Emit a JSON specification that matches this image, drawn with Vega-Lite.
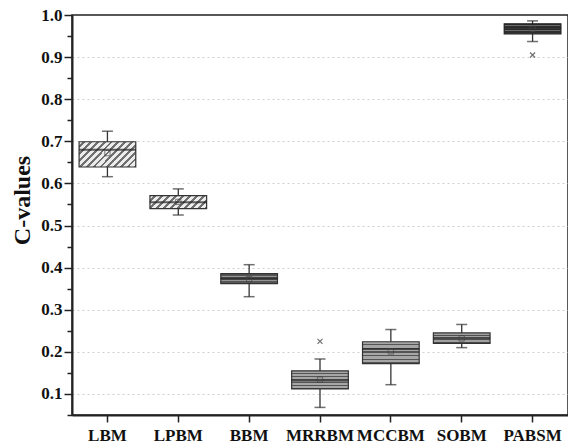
{
  "$schema": "https://vega.github.io/schema/vega-lite/v6.json",
  "width": 496,
  "height": 400,
  "autosize": {"type": "none"},
  "padding": {"left": 72, "top": 15, "right": 0, "bottom": 32},
  "background": "white",
  "config": {
    "view": {"stroke": "#222", "strokeWidth": 1.5},
    "font": "Liberation Serif"
  },
  "resolve": {"axis": {"y": "independent"}},
  "data": {
    "values": [
      {"cat": "LBM", "lo": 0.616, "q1": 0.639, "med": 0.680, "q3": 0.699, "hi": 0.724, "mean": 0.672},
      {"cat": "LPBM", "lo": 0.525, "q1": 0.540, "med": 0.555, "q3": 0.571, "hi": 0.587, "mean": 0.556},
      {"cat": "BBM", "lo": 0.331, "q1": 0.362, "med": 0.374, "q3": 0.386, "hi": 0.407, "mean": 0.373},
      {"cat": "MRRBM", "lo": 0.068, "q1": 0.112, "med": 0.132, "q3": 0.155, "hi": 0.183, "mean": 0.134},
      {"cat": "MCCBM", "lo": 0.122, "q1": 0.172, "med": 0.207, "q3": 0.224, "hi": 0.253, "mean": 0.201},
      {"cat": "SOBM", "lo": 0.210, "q1": 0.220, "med": 0.233, "q3": 0.245, "hi": 0.265, "mean": 0.232},
      {"cat": "PABSM", "lo": 0.937, "q1": 0.955, "med": 0.968, "q3": 0.979, "hi": 0.986, "mean": 0.967}
    ]
  },
  "encoding": {
    "x": {
      "field": "cat", "type": "nominal",
      "sort": ["LBM", "LPBM", "BBM", "MRRBM", "MCCBM", "SOBM", "PABSM"],
      "scale": {"paddingInner": 0, "paddingOuter": 0},
      "axis": {
        "title": null, "labelAngle": 0, "labelFont": "Liberation Serif", "labelFontWeight": "bold",
        "labelFontSize": 17, "labelColor": "#111", "labelPadding": 5, "tickSize": 7, "tickWidth": 1.5,
        "tickColor": "#222", "domainColor": "#222", "domainWidth": 2, "grid": false
      }
    }
  },
  "layer": [
    {
      "mark": {"type": "rule", "color": "#333", "strokeWidth": 1.3},
      "encoding": {
        "y": {
          "field": "lo", "type": "quantitative",
          "scale": {"domain": [0.05, 1.0], "nice": false, "zero": false},
          "axis": {
            "orient": "left",
            "title": "C-values", "titleFont": "Liberation Serif", "titleFontSize": 24, "titleFontWeight": "bold",
            "titleColor": "#111", "titlePadding": 6, "titleY": 185,
            "values": [0.1, 0.2, 0.3, 0.4, 0.5, 0.6, 0.7, 0.8, 0.9, 1.0],
            "format": ".1f",
            "labelFont": "Liberation Serif", "labelFontWeight": "bold", "labelFontSize": 17, "labelColor": "#111",
            "labelPadding": 2, "labelOverlap": false, "labelBound": false,
            "tickSize": 8, "tickWidth": 1.5, "tickColor": "#222", "domainColor": "#222", "domainWidth": 2,
            "grid": false
          }
        },
        "y2": {"field": "hi"}
      }
    },
    {
      "transform": [{"filter": {"field": "cat", "oneOf": ["LBM"]}}],
      "mark": {
        "type": "bar", "width": {"band": 0.8}, "stroke": "#333", "strokeWidth": 1.2,
        "fill": {"gradient": "linear", "x1": 0, "y1": 0, "x2": 1.207, "y2": 0.529, "stops": [
          {"offset": 0, "color": "#ececec"}, {"offset": 0.05, "color": "#ececec"}, {"offset": 0.05, "color": "#707070"}, {"offset": 0.0833, "color": "#707070"},
          {"offset": 0.0833, "color": "#ececec"}, {"offset": 0.1333, "color": "#ececec"}, {"offset": 0.1333, "color": "#707070"}, {"offset": 0.1667, "color": "#707070"},
          {"offset": 0.1667, "color": "#ececec"}, {"offset": 0.2167, "color": "#ececec"}, {"offset": 0.2167, "color": "#707070"}, {"offset": 0.25, "color": "#707070"},
          {"offset": 0.25, "color": "#ececec"}, {"offset": 0.3, "color": "#ececec"}, {"offset": 0.3, "color": "#707070"}, {"offset": 0.3333, "color": "#707070"},
          {"offset": 0.3333, "color": "#ececec"}, {"offset": 0.3833, "color": "#ececec"}, {"offset": 0.3833, "color": "#707070"}, {"offset": 0.4167, "color": "#707070"},
          {"offset": 0.4167, "color": "#ececec"}, {"offset": 0.4667, "color": "#ececec"}, {"offset": 0.4667, "color": "#707070"}, {"offset": 0.5, "color": "#707070"},
          {"offset": 0.5, "color": "#ececec"}, {"offset": 0.55, "color": "#ececec"}, {"offset": 0.55, "color": "#707070"}, {"offset": 0.5833, "color": "#707070"},
          {"offset": 0.5833, "color": "#ececec"}, {"offset": 0.6333, "color": "#ececec"}, {"offset": 0.6333, "color": "#707070"}, {"offset": 0.6667, "color": "#707070"},
          {"offset": 0.6667, "color": "#ececec"}, {"offset": 0.7167, "color": "#ececec"}, {"offset": 0.7167, "color": "#707070"}, {"offset": 0.75, "color": "#707070"},
          {"offset": 0.75, "color": "#ececec"}, {"offset": 0.8, "color": "#ececec"}, {"offset": 0.8, "color": "#707070"}, {"offset": 0.8333, "color": "#707070"},
          {"offset": 0.8333, "color": "#ececec"}, {"offset": 0.8833, "color": "#ececec"}, {"offset": 0.8833, "color": "#707070"}, {"offset": 0.9167, "color": "#707070"},
          {"offset": 0.9167, "color": "#ececec"}, {"offset": 0.9667, "color": "#ececec"}, {"offset": 0.9667, "color": "#707070"}, {"offset": 1, "color": "#707070"}
        ]}
      },
      "encoding": {"y": {"field": "q1", "type": "quantitative", "axis": null}, "y2": {"field": "q3"}}
    },
    {
      "transform": [{"filter": {"field": "cat", "oneOf": ["LPBM"]}}],
      "mark": {
        "type": "bar", "width": {"band": 0.8}, "stroke": "#333", "strokeWidth": 1.2,
        "fill": {"gradient": "linear", "x1": 0, "y1": 0, "x2": 1.167, "y2": 0.266, "stops": [
          {"offset": 0, "color": "#ececec"}, {"offset": 0.06, "color": "#ececec"}, {"offset": 0.06, "color": "#707070"}, {"offset": 0.1, "color": "#707070"},
          {"offset": 0.1, "color": "#ececec"}, {"offset": 0.16, "color": "#ececec"}, {"offset": 0.16, "color": "#707070"}, {"offset": 0.2, "color": "#707070"},
          {"offset": 0.2, "color": "#ececec"}, {"offset": 0.26, "color": "#ececec"}, {"offset": 0.26, "color": "#707070"}, {"offset": 0.3, "color": "#707070"},
          {"offset": 0.3, "color": "#ececec"}, {"offset": 0.36, "color": "#ececec"}, {"offset": 0.36, "color": "#707070"}, {"offset": 0.4, "color": "#707070"},
          {"offset": 0.4, "color": "#ececec"}, {"offset": 0.46, "color": "#ececec"}, {"offset": 0.46, "color": "#707070"}, {"offset": 0.5, "color": "#707070"},
          {"offset": 0.5, "color": "#ececec"}, {"offset": 0.56, "color": "#ececec"}, {"offset": 0.56, "color": "#707070"}, {"offset": 0.6, "color": "#707070"},
          {"offset": 0.6, "color": "#ececec"}, {"offset": 0.66, "color": "#ececec"}, {"offset": 0.66, "color": "#707070"}, {"offset": 0.7, "color": "#707070"},
          {"offset": 0.7, "color": "#ececec"}, {"offset": 0.76, "color": "#ececec"}, {"offset": 0.76, "color": "#707070"}, {"offset": 0.8, "color": "#707070"},
          {"offset": 0.8, "color": "#ececec"}, {"offset": 0.86, "color": "#ececec"}, {"offset": 0.86, "color": "#707070"}, {"offset": 0.9, "color": "#707070"},
          {"offset": 0.9, "color": "#ececec"}, {"offset": 0.96, "color": "#ececec"}, {"offset": 0.96, "color": "#707070"}, {"offset": 1, "color": "#707070"}
        ]}
      },
      "encoding": {"y": {"field": "q1", "type": "quantitative", "axis": null}, "y2": {"field": "q3"}}
    },
    {
      "transform": [{"filter": {"field": "cat", "oneOf": ["BBM"]}}],
      "mark": {
        "type": "bar", "width": {"band": 0.8}, "stroke": "#333", "strokeWidth": 1.2,
        "fill": {"gradient": "linear", "x1": 0, "y1": 0, "x2": 0, "y2": 1, "stops": [
          {"offset": 0, "color": "#555555"}, {"offset": 0.2, "color": "#555555"}, {"offset": 0.2, "color": "#959595"}, {"offset": 0.38, "color": "#959595"},
          {"offset": 0.38, "color": "#555555"}, {"offset": 0.6, "color": "#555555"}, {"offset": 0.6, "color": "#959595"}, {"offset": 0.78, "color": "#959595"},
          {"offset": 0.78, "color": "#555555"}, {"offset": 1, "color": "#555555"}
        ]}
      },
      "encoding": {"y": {"field": "q1", "type": "quantitative", "axis": null}, "y2": {"field": "q3"}}
    },
    {
      "transform": [{"filter": {"field": "cat", "oneOf": ["MRRBM", "MCCBM"]}}],
      "mark": {
        "type": "bar", "width": {"band": 0.8}, "stroke": "#333", "strokeWidth": 1.2,
        "fill": {"gradient": "linear", "x1": 0, "y1": 0, "x2": 0, "y2": 1, "stops": [
          {"offset": 0, "color": "#a6a6a6"}, {"offset": 0.1, "color": "#a6a6a6"}, {"offset": 0.1, "color": "#555555"}, {"offset": 0.1667, "color": "#555555"},
          {"offset": 0.1667, "color": "#a6a6a6"}, {"offset": 0.2667, "color": "#a6a6a6"}, {"offset": 0.2667, "color": "#555555"}, {"offset": 0.3333, "color": "#555555"},
          {"offset": 0.3333, "color": "#a6a6a6"}, {"offset": 0.4333, "color": "#a6a6a6"}, {"offset": 0.4333, "color": "#555555"}, {"offset": 0.5, "color": "#555555"},
          {"offset": 0.5, "color": "#a6a6a6"}, {"offset": 0.6, "color": "#a6a6a6"}, {"offset": 0.6, "color": "#555555"}, {"offset": 0.6667, "color": "#555555"},
          {"offset": 0.6667, "color": "#a6a6a6"}, {"offset": 0.7667, "color": "#a6a6a6"}, {"offset": 0.7667, "color": "#555555"}, {"offset": 0.8333, "color": "#555555"},
          {"offset": 0.8333, "color": "#a6a6a6"}, {"offset": 0.9333, "color": "#a6a6a6"}, {"offset": 0.9333, "color": "#555555"}, {"offset": 1, "color": "#555555"}
        ]}
      },
      "encoding": {"y": {"field": "q1", "type": "quantitative", "axis": null}, "y2": {"field": "q3"}}
    },
    {
      "transform": [{"filter": {"field": "cat", "oneOf": ["SOBM"]}}],
      "mark": {
        "type": "bar", "width": {"band": 0.8}, "stroke": "#333", "strokeWidth": 1.2,
        "fill": {"gradient": "linear", "x1": 0, "y1": 0, "x2": 0, "y2": 1, "stops": [
          {"offset": 0, "color": "#a0a0a0"}, {"offset": 0.2, "color": "#a0a0a0"}, {"offset": 0.2, "color": "#505050"}, {"offset": 0.333, "color": "#505050"},
          {"offset": 0.333, "color": "#a0a0a0"}, {"offset": 0.533, "color": "#a0a0a0"}, {"offset": 0.533, "color": "#505050"}, {"offset": 0.667, "color": "#505050"},
          {"offset": 0.667, "color": "#a0a0a0"}, {"offset": 0.867, "color": "#a0a0a0"}, {"offset": 0.867, "color": "#505050"}, {"offset": 1, "color": "#505050"}
        ]}
      },
      "encoding": {"y": {"field": "q1", "type": "quantitative", "axis": null}, "y2": {"field": "q3"}}
    },
    {
      "transform": [{"filter": {"field": "cat", "oneOf": ["PABSM"]}}],
      "mark": {
        "type": "bar", "width": {"band": 0.8}, "stroke": "#222", "strokeWidth": 1.2,
        "fill": {"gradient": "linear", "x1": 0, "y1": 0, "x2": 0, "y2": 1, "stops": [
          {"offset": 0, "color": "#2e2e2e"}, {"offset": 0.15, "color": "#2e2e2e"}, {"offset": 0.15, "color": "#6a6a6a"}, {"offset": 0.25, "color": "#6a6a6a"},
          {"offset": 0.25, "color": "#2e2e2e"}, {"offset": 0.4, "color": "#2e2e2e"}, {"offset": 0.4, "color": "#6a6a6a"}, {"offset": 0.5, "color": "#6a6a6a"},
          {"offset": 0.5, "color": "#2e2e2e"}, {"offset": 0.65, "color": "#2e2e2e"}, {"offset": 0.65, "color": "#6a6a6a"}, {"offset": 0.75, "color": "#6a6a6a"},
          {"offset": 0.75, "color": "#2e2e2e"}, {"offset": 0.9, "color": "#2e2e2e"}, {"offset": 0.9, "color": "#6a6a6a"}, {"offset": 1, "color": "#6a6a6a"}
        ]}
      },
      "encoding": {"y": {"field": "q1", "type": "quantitative", "axis": null}, "y2": {"field": "q3"}}
    },
    {
      "mark": {"type": "tick", "color": "#222", "size": 57, "thickness": 2},
      "encoding": {
        "y": {
          "field": "med", "type": "quantitative",
          "axis": {
            "orient": "left", "title": null, "labels": false, "domain": false, "grid": false,
            "values": [0.05, 0.15, 0.25, 0.35, 0.45, 0.55, 0.65, 0.75, 0.85, 0.95],
            "tickSize": 5, "tickWidth": 1.5, "tickColor": "#222"
          }
        }
      }
    },
    {
      "mark": {"type": "tick", "color": "#333", "size": 11, "thickness": 1.5},
      "encoding": {
        "y": {
          "field": "lo", "type": "quantitative",
          "axis": {
            "orient": "left", "title": null, "labels": false, "domain": false, "ticks": false,
            "values": [0.1, 0.2, 0.3, 0.4, 0.5, 0.6, 0.7, 0.8, 0.9],
            "grid": true, "gridDash": [2, 3], "gridColor": "#cfcfcf", "gridWidth": 1
          }
        }
      }
    },
    {
      "mark": {"type": "tick", "color": "#333", "size": 11, "thickness": 1.5},
      "encoding": {"y": {"field": "hi", "type": "quantitative", "axis": null}}
    },
    {
      "mark": {"type": "point", "shape": "square", "filled": false, "size": 28, "stroke": "#444", "strokeWidth": 1},
      "encoding": {"y": {"field": "mean", "type": "quantitative", "axis": null}}
    },
    {
      "data": {"values": [{"cat": "MRRBM", "v": 0.225}, {"cat": "PABSM", "v": 0.905}]},
      "mark": {"type": "point", "shape": "M-1,-1L1,1M-1,1L1,-1", "filled": false, "size": 25, "stroke": "#333", "strokeWidth": 1.2},
      "encoding": {"y": {"field": "v", "type": "quantitative", "axis": null}}
    }
  ]
}
